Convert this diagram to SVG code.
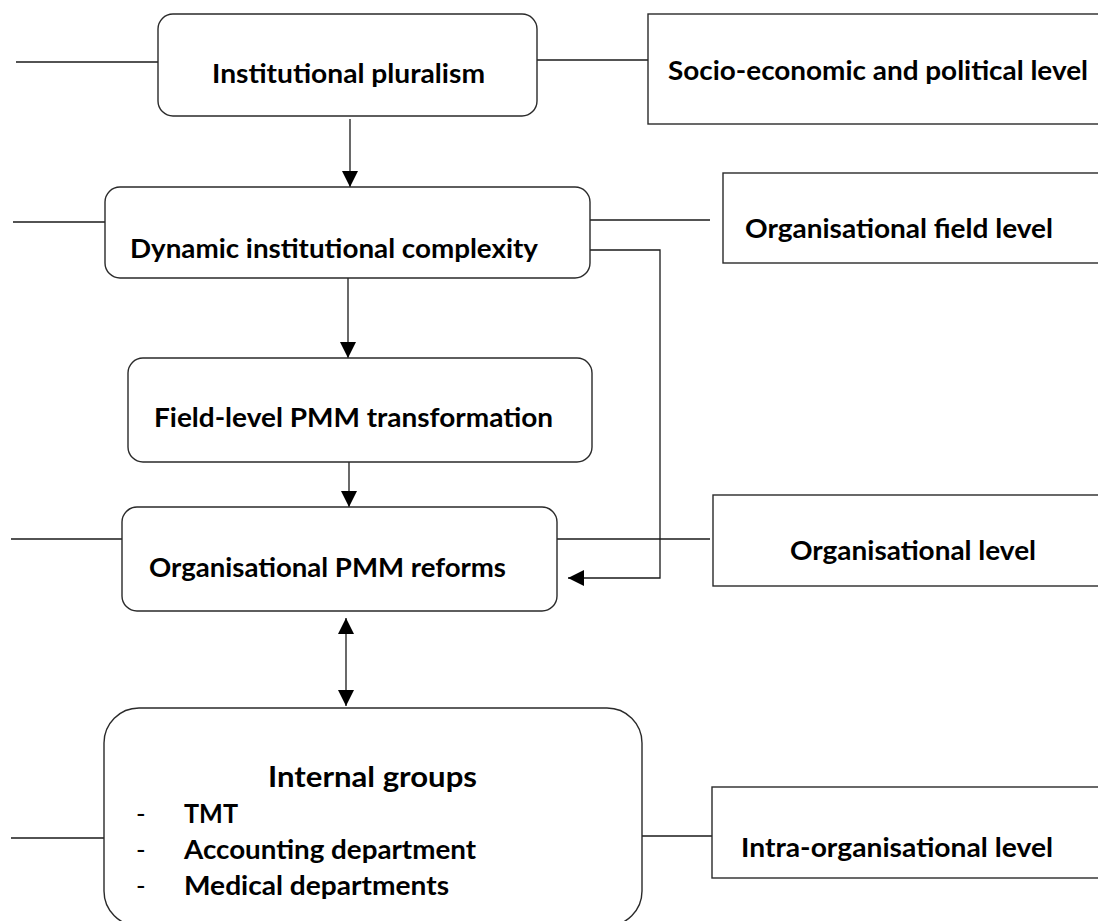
<svg xmlns="http://www.w3.org/2000/svg" width="1098" height="921" viewBox="0 0 1098 921">
  <style>
    .box { fill: #ffffff; stroke: #2a2a2a; stroke-width: 1.4; }
    .wire { fill: none; stroke: #1a1a1a; stroke-width: 1.3; }
    .lbl { font-family: Lato, "Liberation Sans", sans-serif; font-weight: 700; font-size: 26px; fill: #000000; }
    .big { font-size: 28px; }
    .dash { font-family: Lato, "Liberation Sans", sans-serif; font-weight: 400; font-size: 26px; fill: #000000; }
  </style>
  <defs>
    <marker id="head" markerUnits="userSpaceOnUse" markerWidth="16" markerHeight="16" refX="15" refY="7.5" orient="auto-start-reverse" viewBox="0 0 15 15">
      <path d="M0,0 L15,7.5 L0,15 Z" fill="#000000"/>
    </marker>
  </defs>
  <rect width="1098" height="921" fill="#ffffff"/>

  <!-- connectors -->
  <g id="connectors">
    <line class="wire" x1="16" y1="62" x2="158" y2="62"/>
    <line class="wire" x1="537" y1="60" x2="648" y2="60"/>
    <line class="wire" x1="350" y1="119" x2="350" y2="187" marker-end="url(#head)"/>
    <line class="wire" x1="13" y1="222" x2="105" y2="222"/>
    <line class="wire" x1="590" y1="220" x2="710" y2="220"/>
    <polyline class="wire" points="590,250 660,250 660,578 568,578" marker-end="url(#head)"/>
    <line class="wire" x1="348" y1="278" x2="348" y2="358" marker-end="url(#head)"/>
    <line class="wire" x1="349" y1="462" x2="349" y2="507" marker-end="url(#head)"/>
    <line class="wire" x1="11" y1="539" x2="122" y2="539"/>
    <line class="wire" x1="557" y1="539" x2="710" y2="539"/>
    <line class="wire" x1="346" y1="618" x2="346" y2="706" marker-start="url(#head)" marker-end="url(#head)"/>
    <line class="wire" x1="11" y1="838" x2="104" y2="838"/>
    <line class="wire" x1="642" y1="836" x2="712" y2="836"/>
  </g>

  <!-- main chain -->
  <g id="institutional-pluralism">
    <rect class="box" x="158" y="14" width="379" height="102" rx="15"/>
    <text class="lbl" x="212" y="83" textLength="273" lengthAdjust="spacingAndGlyphs">Institutional pluralism</text>
  </g>
  <g id="dynamic-complexity">
    <rect class="box" x="105" y="187" width="485" height="91" rx="15"/>
    <text class="lbl" x="130" y="258" textLength="408" lengthAdjust="spacingAndGlyphs">Dynamic institutional complexity</text>
  </g>
  <g id="field-pmm">
    <rect class="box" x="128" y="358" width="464" height="104" rx="15"/>
    <text class="lbl" x="154" y="427" textLength="399" lengthAdjust="spacingAndGlyphs">Field-level PMM transformation</text>
  </g>
  <g id="org-pmm">
    <rect class="box" x="122" y="507" width="435" height="104" rx="15"/>
    <text class="lbl" x="149" y="577" textLength="357" lengthAdjust="spacingAndGlyphs">Organisational PMM reforms</text>
  </g>
  <g id="internal-groups">
    <rect class="box" x="104" y="708" width="538" height="218" rx="35"/>
    <text class="lbl big" x="268" y="787" textLength="209" lengthAdjust="spacingAndGlyphs">Internal groups</text>
    <text class="dash" x="136" y="823">-</text>
    <text class="lbl" x="184" y="823" textLength="54" lengthAdjust="spacingAndGlyphs">TMT</text>
    <text class="dash" x="136" y="859">-</text>
    <text class="lbl" x="184" y="859" textLength="292" lengthAdjust="spacingAndGlyphs">Accounting department</text>
    <text class="dash" x="136" y="895">-</text>
    <text class="lbl" x="184" y="895" textLength="265" lengthAdjust="spacingAndGlyphs">Medical departments</text>
  </g>

  <!-- level labels -->
  <g id="level-socio">
    <rect class="box" x="648" y="14" width="470" height="110"/>
    <text class="lbl" x="668" y="80" textLength="420" lengthAdjust="spacingAndGlyphs">Socio-economic and political level</text>
  </g>
  <g id="level-field">
    <rect class="box" x="723" y="173" width="395" height="90"/>
    <text class="lbl" x="745" y="238" textLength="308" lengthAdjust="spacingAndGlyphs">Organisational field level</text>
  </g>
  <g id="level-org">
    <rect class="box" x="713" y="495" width="405" height="91"/>
    <text class="lbl" x="790" y="560" textLength="246" lengthAdjust="spacingAndGlyphs">Organisational level</text>
  </g>
  <g id="level-intra">
    <rect class="box" x="712" y="787" width="406" height="91"/>
    <text class="lbl" x="741" y="857" textLength="312" lengthAdjust="spacingAndGlyphs">Intra-organisational level</text>
  </g>
</svg>
